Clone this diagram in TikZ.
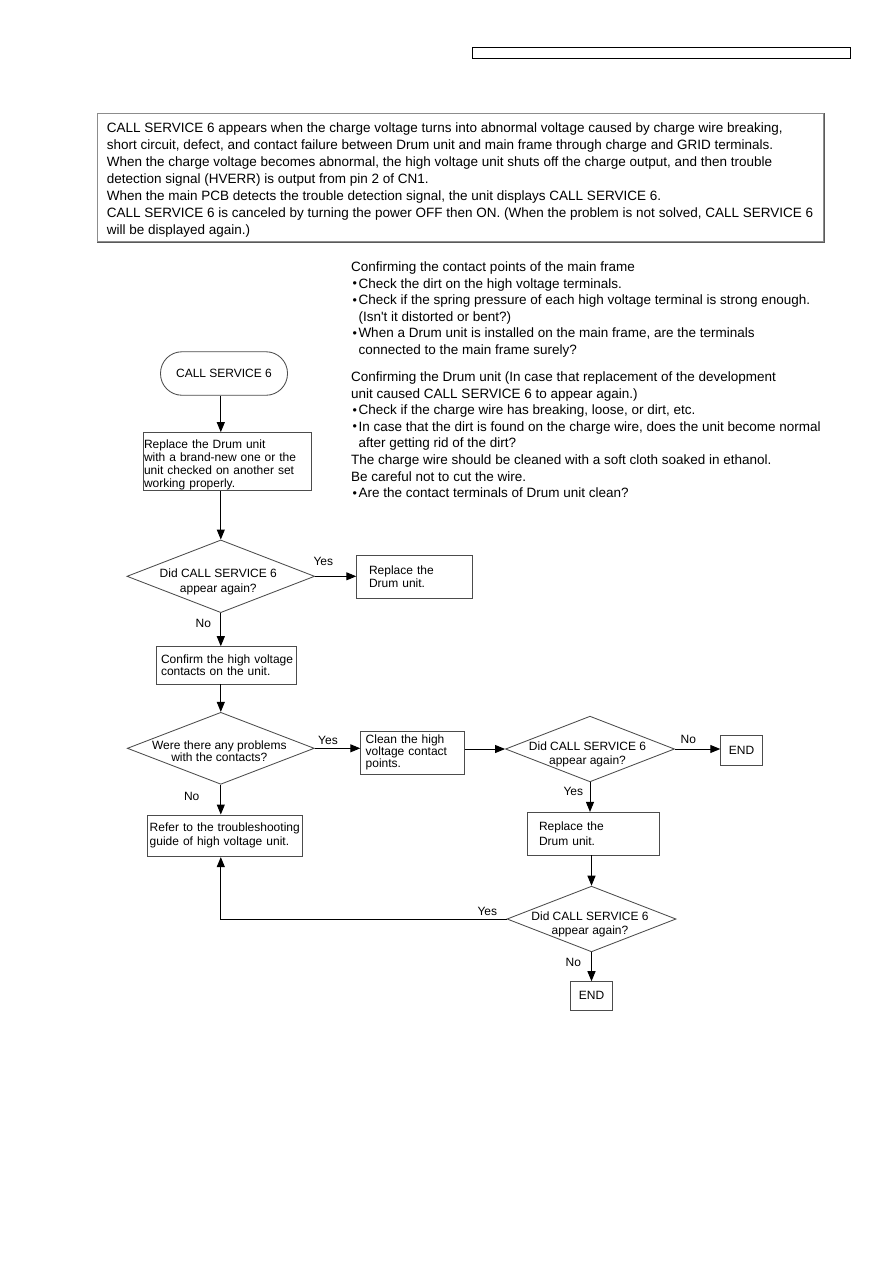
\documentclass[tikz,border=0pt]{standalone}
\usepackage{fontspec}
\setmainfont{Liberation Sans}
\usetikzlibrary{arrows.meta,shapes.geometric}
\newcommand{\mybul}{\makebox[7.3pt][c]{\fontsize{12.5}{12.5}\selectfont\raisebox{0.3pt}{\textbullet}}}
\newcommand{\myind}{\hspace*{7.3pt}}
\begin{document}
\begin{tikzpicture}[x=1pt,y=-1pt,
  ff/.style={font=\fontsize{12}{13.3}\selectfont},
  bx/.style={draw=black!70, line width=0.85pt, rectangle, inner sep=0pt, ff, align=left},
  dia/.style={draw=black!70, line width=0.85pt, diamond, inner sep=0pt},
  dtxt/.style={ff, align=center, inner sep=0pt},
  arr/.style={draw=black, line width=1pt, -{Triangle[length=10pt,width=8pt]}},
  lbl/.style={ff, inner sep=0pt},
  bigtxt/.style={font=\fontsize{13.5}{17}\selectfont, align=left, inner sep=0pt, anchor=north west}
]
\fill[white] (0,0) rectangle (893,1263);
\useasboundingbox (0,0) rectangle (893,1263);

% header bar
\node[draw=black, line width=1.1pt, minimum width=378pt, minimum height=11pt, inner sep=0pt, anchor=north west] (hdr) at (472,47) {};

% intro box
\node[draw=black!45, line width=0.8pt, minimum width=726pt, minimum height=128pt, inner sep=0pt, anchor=north west] (intro) at (97,113) {};
\draw[black!65, line width=1.4pt] ([xshift=0.7pt]intro.north east) -- ([xshift=0.7pt,yshift=-0.7pt]intro.south east) -- ([yshift=-0.7pt]intro.south west);
\node[bigtxt] (introtext) at (106.6,122.5) {CALL SERVICE 6 appears when the charge voltage turns into abnormal voltage caused by charge wire breaking,\\
short circuit, defect, and contact failure between Drum unit and main frame through charge and GRID terminals.\\
When the charge voltage becomes abnormal, the high voltage unit shuts off the charge output, and then trouble\\
detection signal (HVERR) is output from pin 2 of CN1.\\
When the main PCB detects the trouble detection signal, the unit displays CALL SERVICE 6.\\
CALL SERVICE 6 is canceled by turning the power OFF then ON. (When the problem is not solved, CALL SERVICE 6\\
will be displayed again.)};

% notes
\node[bigtxt, font=\fontsize{13.5}{16.6}\selectfont] (notes) at (351,261.5) {Confirming the contact points of the main frame\\
\mybul Check the dirt on the high voltage terminals.\\
\mybul Check if the spring pressure of each high voltage terminal is strong enough.\\
\myind(Isn\textquotesingle t it distorted or bent?)\\
\mybul When a Drum unit is installed on the main frame, are the terminals\\
\myind connected to the main frame surely?\\[10.4pt]
Confirming the Drum unit (In case that replacement of the development\\
unit caused CALL SERVICE 6 to appear again.)\\
\mybul Check if the charge wire has breaking, loose, or dirt, etc.\\
\mybul In case that the dirt is found on the charge wire, does the unit become normal\\
\myind after getting rid of the dirt?\\
The charge wire should be cleaned with a soft cloth soaked in ethanol.\\
Be careful not to cut the wire.\\
\mybul Are the contact terminals of Drum unit clean?};

% flowchart nodes
\node[draw=black!70, line width=0.85pt, rounded corners=21.5pt, minimum width=127pt, minimum height=43.5pt, inner sep=0pt, ff] (start) at (224,373.5) {CALL SERVICE 6};

\node[bx, minimum width=168pt, minimum height=55pt, text width=166pt] (b1) at (227,461.5) {\mbox{\rule{0pt}{15.5pt}Replace the Drum unit}\\\mbox{with a brand-new one or the}\\\mbox{unit checked on another set}\\\mbox{working properly.}};

\node[dia, minimum width=187.7pt, minimum height=72.7pt] (d1) at (220.8,576.3) {};
\node[dtxt, font=\fontsize{12}{14.7}\selectfont] (d1t) at ([xshift=-2.5pt,yshift=-5.4pt]d1.center) {Did CALL SERVICE 6\\appear again?};

\node[bx, minimum width=115.6pt, minimum height=42.6pt, text width=91pt] (rep1) at (414.5,577) {\mbox{Replace the}\\\mbox{Drum unit.}};

\node[bx, minimum width=140pt, minimum height=37.3pt, text width=130pt, font=\fontsize{12}{12.7}\selectfont] (conf) at (226,665.3) {\mbox{Confirm the high voltage}\\\mbox{contacts on the unit.}};

\node[dia, minimum width=187pt, minimum height=72pt] (d2) at (220.8,748.3) {};
\node[dtxt, font=\fontsize{12}{12.5}\selectfont] (d2t) at ([xshift=-1.5pt,yshift=-3pt]d2.center) {Were there any problems\\with the contacts?};

\node[bx, minimum width=103.6pt, minimum height=43pt, text width=93.6pt, font=\fontsize{12}{12}\selectfont] (clean) at (412.5,752.5) {\mbox{Clean the high}\\\mbox{voltage contact}\\\mbox{points.}};

\node[bx, minimum width=154.6pt, minimum height=41.7pt, text width=150.6pt, font=\fontsize{12}{14}\selectfont] (refer) at (225,835.8) {\mbox{Refer to the troubleshooting}\\\mbox{guide of high voltage unit.}};

\node[dia, minimum width=169pt, minimum height=65.7pt] (d3) at (590,749) {};
\node[dtxt, font=\fontsize{12}{14}\selectfont] (d3t) at ([xshift=-2.5pt,yshift=-5.7pt]d3.center) {Did CALL SERVICE 6\\appear again?};

\node[bx, minimum width=41.6pt, minimum height=29.3pt, align=center] (end1) at (741.5,750.3) {END};

\node[bx, minimum width=132pt, minimum height=42.7pt, text width=108.6pt, font=\fontsize{12}{14.3}\selectfont] (rep2) at (593.3,833.7) {\mbox{Replace the}\\\mbox{Drum unit.}};

\node[dia, minimum width=169pt, minimum height=65.7pt] (d4) at (591.5,919) {};
\node[dtxt, font=\fontsize{12}{14.4}\selectfont] (d4t) at ([xshift=-1.5pt,yshift=-5.5pt]d4.center) {Did CALL SERVICE 6\\appear again?};

\node[bx, minimum width=41.7pt, minimum height=28.3pt, align=center] (end2) at (591.5,995.8) {END};

% labels
\node[lbl] (y1) at (323.3,561.7) {Yes};
\node[lbl] (n1) at (203.3,623.3) {No};
\node[lbl] (y2) at (328,740.7) {Yes};
\node[lbl] (n2) at (191.7,796) {No};
\node[lbl] (n3) at (688.3,739) {No};
\node[lbl] (y3) at (573.3,791) {Yes};
\node[lbl] (y4) at (487.3,911.7) {Yes};
\node[lbl] (n4) at (573.3,962.7) {No};

% connectors
\draw[arr] (start.south -| d1.north) -- (b1.north -| d1.north);
\draw[arr] (b1.south -| d1.north) -- (d1.north);
\draw[arr] (d1.east) -- (rep1.west |- d1.east);
\draw[arr] (d1.south) -- (conf.north -| d1.south);
\draw[arr] (conf.south -| d2.north) -- (d2.north);
\draw[arr] (d2.east) -- (clean.west |- d2.east);
\draw[arr] (clean.east |- d3.west) -- (d3.west);
\draw[arr] (d3.east) -- (end1.west |- d3.east);
\draw[arr] (d3.south) -- (rep2.north -| d3.south);
\draw[arr] (rep2.south -| d4.north) -- (d4.north);
\draw[arr] (d4.south) -- (end2.north -| d4.south);
\draw[arr] (d2.south) -- (refer.north -| d2.south);
\draw[arr] (d4.west) -| (d2.south |- refer.south);
\end{tikzpicture}
\end{document}
